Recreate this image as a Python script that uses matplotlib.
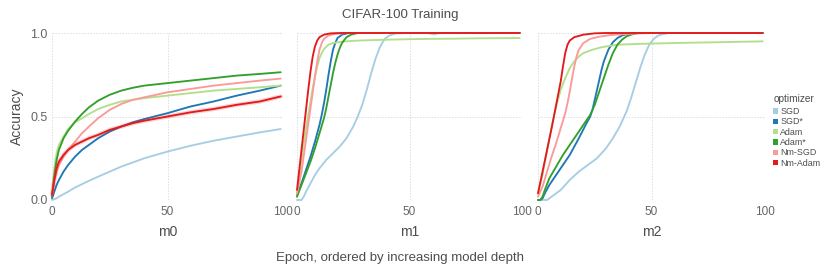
import matplotlib
matplotlib.use("Agg")
import matplotlib.pyplot as plt
from matplotlib.patches import Patch

OPTIMIZERS = ["SGD", "SGD*", "Adam", "Adam*", "Nm-SGD", "Nm-Adam"]
COLORS = ["#a6cee3", "#1f78b4", "#b2df8a", "#33a02c", "#fb9a99", "#e31a1c"]
MODELS = ["m0", "m1", "m2"]
X_TICKS = [0, 50, 100]
Y_TICKS = [0.0, 0.5, 1.0]

# ---- m0 ----
m0_ep = [0, 1, 2, 3, 5, 7, 10, 13, 16, 20, 25, 30, 35, 40, 50, 60, 70, 80, 90, 99]
m0_sgd = [0.0, 0.005, 0.01, 0.02, 0.035, 0.05, 0.075, 0.095, 0.115, 0.14, 0.17, 0.2, 0.225, 0.25, 0.29, 0.325, 0.355, 0.38, 0.405, 0.425]
m0_sgd_star = [0.01, 0.05, 0.09, 0.12, 0.17, 0.21, 0.26, 0.3, 0.33, 0.37, 0.41, 0.44, 0.465, 0.485, 0.52, 0.56, 0.59, 0.625, 0.655, 0.685]
m0_adam = [0.03, 0.19, 0.28, 0.33, 0.38, 0.425, 0.465, 0.49, 0.515, 0.545, 0.57, 0.59, 0.6, 0.61, 0.625, 0.64, 0.655, 0.665, 0.675, 0.685]
m0_adam_star = [0.02, 0.14, 0.24, 0.3, 0.37, 0.415, 0.47, 0.515, 0.555, 0.595, 0.63, 0.655, 0.672, 0.685, 0.7, 0.715, 0.73, 0.745, 0.755, 0.765]
m0_nm_sgd = [0.03, 0.11, 0.17, 0.21, 0.26, 0.3, 0.35, 0.4, 0.44, 0.49, 0.54, 0.575, 0.6, 0.615, 0.645, 0.665, 0.685, 0.7, 0.715, 0.727]
m0_nm_adam = [0.03, 0.12, 0.19, 0.23, 0.27, 0.3, 0.33, 0.35, 0.37, 0.39, 0.42, 0.44, 0.46, 0.475, 0.5, 0.525, 0.545, 0.57, 0.59, 0.62]

# ---- m1 ----
m1_sgd_ep = [0, 1, 2, 3, 4, 6, 8, 10, 13, 16, 19, 22, 25, 27, 29, 31, 33, 35, 37, 39, 41, 44, 48, 58, 61, 63, 66, 99]
m1_sgd = [0.0, 0.0, 0.0, 0.02, 0.05, 0.1, 0.15, 0.19, 0.24, 0.28, 0.32, 0.37, 0.44, 0.5, 0.57, 0.66, 0.76, 0.85, 0.92, 0.965, 0.985, 0.997, 1.0, 1.0, 0.992, 0.999, 1.0, 1.0]
m1_sgd_star_ep = [0, 2, 4, 6, 8, 10, 11, 12, 13, 14, 15, 16, 17, 18, 20, 23, 99]
m1_sgd_star = [0.03, 0.1, 0.18, 0.26, 0.35, 0.45, 0.51, 0.58, 0.66, 0.75, 0.83, 0.9, 0.94, 0.97, 0.99, 1.0, 1.0]
m1_adam_ep = [0, 1, 2, 3, 4, 5, 6, 7, 8, 9, 10, 11, 12, 14, 16, 20, 25, 30, 40, 50, 60, 70, 80, 90, 99]
m1_adam = [0.02, 0.13, 0.24, 0.34, 0.43, 0.51, 0.59, 0.67, 0.74, 0.8, 0.85, 0.88, 0.905, 0.93, 0.94, 0.948, 0.953, 0.956, 0.96, 0.963, 0.965, 0.966, 0.968, 0.969, 0.97]
m1_adam_star_ep = [0, 2, 4, 6, 8, 10, 12, 13, 14, 15, 16, 17, 18, 19, 20, 22, 24, 27, 99]
m1_adam_star = [0.02, 0.09, 0.16, 0.23, 0.31, 0.4, 0.49, 0.55, 0.62, 0.69, 0.76, 0.82, 0.87, 0.91, 0.94, 0.975, 0.99, 1.0, 1.0]
m1_nm_sgd_ep = [0, 2, 4, 6, 8, 9, 10, 11, 12, 14, 17, 22, 99]
m1_nm_sgd = [0.04, 0.17, 0.36, 0.55, 0.74, 0.83, 0.9, 0.94, 0.965, 0.985, 0.995, 1.0, 1.0]
m1_nm_adam_ep = [0, 1, 2, 3, 4, 5, 6, 7, 8, 9, 10, 12, 15, 20, 99]
m1_nm_adam = [0.06, 0.18, 0.3, 0.42, 0.54, 0.66, 0.77, 0.86, 0.92, 0.955, 0.975, 0.99, 0.998, 1.0, 1.0]

# ---- m2 ----
m2_sgd_ep = [0, 2, 4, 5, 7, 10, 14, 18, 22, 26, 30, 33, 36, 39, 41, 43, 45, 47, 49, 51, 53, 55, 58, 99]
m2_sgd = [0.0, 0.0, 0.0, 0.01, 0.03, 0.06, 0.12, 0.17, 0.21, 0.25, 0.31, 0.37, 0.44, 0.53, 0.61, 0.7, 0.79, 0.87, 0.93, 0.965, 0.985, 0.993, 1.0, 1.0]
m2_sgd_star_ep = [0, 1, 2, 3, 5, 8, 11, 14, 18, 21, 23, 24, 25, 26, 27, 28, 29, 31, 33, 35, 37, 39, 42, 99]
m2_sgd_star = [0.0, 0.0, 0.01, 0.04, 0.09, 0.15, 0.21, 0.27, 0.37, 0.45, 0.5, 0.54, 0.6, 0.66, 0.72, 0.78, 0.83, 0.9, 0.945, 0.97, 0.985, 0.993, 1.0, 1.0]
m2_adam_ep = [0, 2, 4, 6, 8, 10, 12, 14, 16, 18, 20, 24, 28, 35, 45, 60, 80, 99]
m2_adam = [0.04, 0.15, 0.3, 0.44, 0.56, 0.66, 0.73, 0.79, 0.83, 0.86, 0.88, 0.9, 0.915, 0.93, 0.935, 0.94, 0.945, 0.95]
m2_adam_star_ep = [0, 1, 2, 3, 5, 8, 11, 14, 18, 21, 23, 25, 27, 29, 31, 33, 35, 37, 39, 41, 44, 99]
m2_adam_star = [0.0, 0.0, 0.02, 0.06, 0.13, 0.2, 0.27, 0.33, 0.41, 0.47, 0.51, 0.57, 0.65, 0.73, 0.81, 0.88, 0.93, 0.96, 0.98, 0.99, 1.0, 1.0]
m2_nm_sgd_ep = [0, 2, 4, 6, 8, 10, 12, 13, 14, 15, 16, 17, 18, 20, 23, 27, 32, 40, 50, 99]
m2_nm_sgd = [0.02, 0.08, 0.17, 0.26, 0.34, 0.43, 0.52, 0.58, 0.65, 0.73, 0.8, 0.86, 0.9, 0.94, 0.965, 0.978, 0.988, 0.995, 1.0, 1.0]
m2_nm_adam_ep = [0, 2, 4, 6, 8, 10, 11, 12, 13, 14, 16, 20, 25, 30, 99]
m2_nm_adam = [0.04, 0.17, 0.3, 0.43, 0.57, 0.71, 0.8, 0.88, 0.93, 0.955, 0.975, 0.99, 0.998, 1.0, 1.0]

PANELS = [
    [(m0_ep, m0_sgd), (m0_ep, m0_sgd_star), (m0_ep, m0_adam), (m0_ep, m0_adam_star), (m0_ep, m0_nm_sgd), (m0_ep, m0_nm_adam)],
    [(m1_sgd_ep, m1_sgd), (m1_sgd_star_ep, m1_sgd_star), (m1_adam_ep, m1_adam), (m1_adam_star_ep, m1_adam_star), (m1_nm_sgd_ep, m1_nm_sgd), (m1_nm_adam_ep, m1_nm_adam)],
    [(m2_sgd_ep, m2_sgd), (m2_sgd_star_ep, m2_sgd_star), (m2_adam_ep, m2_adam), (m2_adam_star_ep, m2_adam_star), (m2_nm_sgd_ep, m2_nm_sgd), (m2_nm_adam_ep, m2_nm_adam)],
]

W, H = 830, 277
TXT = "#4d4d4d"
TICK = "#666666"
GRID = "#dcdce4"
plt.rcParams["font.family"] = ["Liberation Sans", "DejaVu Sans"]

fig = plt.figure(figsize=(W / 100, H / 100), dpi=100)
lefts = [(52, 283), (297, 522), (538, 765)]
top_px, bot_px = 33, 200
for i, (l, r) in enumerate(lefts):
    ax = fig.add_axes([l / W, 1 - bot_px / H, (r - l) / W, (bot_px - top_px) / H])
    for s, (ep, acc) in enumerate(PANELS[i]):
        if i == 0 and OPTIMIZERS[s] == "Nm-Adam":
            ax.plot(ep, acc, color=COLORS[s], lw=3.2, alpha=0.18, solid_capstyle="round", clip_on=False, zorder=3 + s)
        ax.plot(ep, acc, color=COLORS[s], lw=1.35, solid_capstyle="round", clip_on=False, zorder=3 + s)
    ax.set_xlim(0, 100)
    ax.set_ylim(0, 1)
    ax.set_xticks(X_TICKS)
    ax.set_yticks(Y_TICKS)
    ax.grid(True, color=GRID, lw=0.7, ls=(0, (1.5, 1.5)))
    ax.set_axisbelow(True)
    for sp in ax.spines.values():
        sp.set_visible(False)
    ax.tick_params(axis="x", length=0, colors=TICK, labelsize=8.5, pad=4)
    ax.tick_params(axis="y", length=0, colors=TICK, labelsize=9, pad=3)
    ax.set_xlabel(MODELS[i], fontsize=10, color=TXT, labelpad=5)
    if i == 0:
        ax.set_yticklabels(["0.0", "0.5", "1.0"])
        ax.set_ylabel("Accuracy", fontsize=10, color=TXT, labelpad=5)
    else:
        ax.set_yticklabels([])

fig.text(400 / W, 1 - 15 / H, "CIFAR-100 Training", ha="center", va="center", fontsize=9.5, color=TXT)
fig.text(400 / W, 1 - 258 / H, "Epoch, ordered by increasing model depth", ha="center", va="center", fontsize=9.5, color=TXT)

fig.text(774 / W, 1 - 99 / H, "optimizer", ha="left", va="center", fontsize=7.3, color=TXT)
handles = [Patch(facecolor=c, edgecolor="none") for c in COLORS]
leg = fig.legend(handles, OPTIMIZERS, loc="upper left",
                 bbox_to_anchor=(773 / W, 1 - 107 / H), frameon=False,
                 fontsize=6.4, handlelength=0.55, handleheight=0.55,
                 handletextpad=0.25, labelspacing=0.15, borderpad=0, borderaxespad=0)
for t in leg.get_texts():
    t.set_color(TXT)

fig.savefig("out.png", dpi=100)
